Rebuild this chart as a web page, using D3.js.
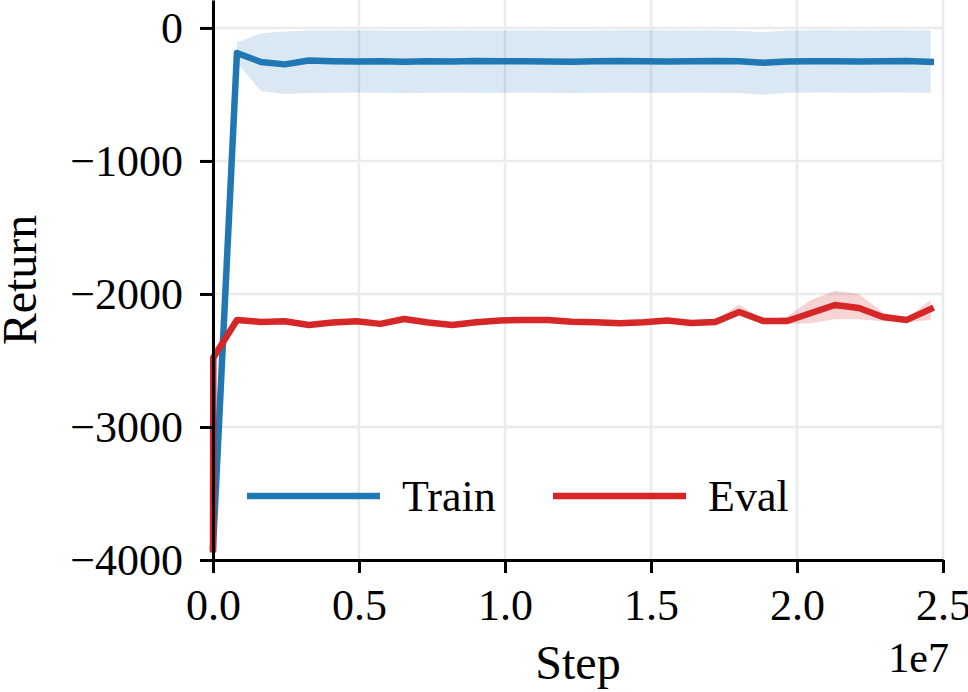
<!DOCTYPE html>
<html>
<head>
<meta charset="utf-8">
<script src="https://cdn.jsdelivr.net/npm/d3@7"></script>
<style>
  body { margin: 0; background: #fff; }
  svg { display: block; font-family: "Liberation Serif", "DejaVu Serif", serif; }
  .axis text { font-size: 44px; fill: #000; }
  .axis path, .axis line { stroke: #000; stroke-width: 3px; }
  .grid line { stroke: #ebebeb; stroke-width: 2.5px; }
</style>
</head>
<body>
<div class="chart"></div>
<script>
// steps in units of 1e7
const trainSteps = [0, 0.082, 0.164, 0.246, 0.328, 0.410, 0.492, 0.573, 0.655, 0.737,
    0.819, 0.901, 0.983, 1.065, 1.147, 1.229, 1.311, 1.393, 1.475, 1.556,
    1.638, 1.720, 1.802, 1.884, 1.966, 2.048, 2.130, 2.212, 2.294, 2.376, 2.458];
const trainMean = [-3910, -188, -256, -274, -245, -250, -252, -250, -255, -250,
    -252, -248, -250, -250, -252, -255, -250, -248, -250, -252,
    -250, -248, -250, -262, -252, -250, -250, -252, -250, -248, -255];
const trainUpper = [-3910, -110, -40, -26, -20, -20, -18, -20, -22, -20,
    -18, -20, -20, -18, -20, -22, -20, -18, -18, -20,
    -18, -20, -22, -32, -20, -18, -18, -20, -18, -18, -20];
const trainLower = [-3910, -260, -474, -496, -490, -488, -486, -488, -490, -488,
    -486, -488, -488, -486, -488, -490, -488, -486, -488, -488,
    -486, -488, -490, -502, -488, -486, -486, -488, -486, -486, -488];

const evalSteps = [0, 0.001, 0.082, 0.164, 0.246, 0.328, 0.410, 0.492, 0.573, 0.655, 0.737,
    0.819, 0.901, 0.983, 1.065, 1.147, 1.229, 1.311, 1.393, 1.475, 1.556,
    1.638, 1.720, 1.802, 1.884, 1.966, 2.048, 2.130, 2.212, 2.294, 2.376, 2.458];
const evalMean = [-3920, -2480, -2195, -2210, -2205, -2233, -2215, -2205, -2225, -2188, -2215,
    -2233, -2213, -2200, -2195, -2195, -2208, -2213, -2220, -2213, -2200,
    -2218, -2210, -2135, -2203, -2203, -2143, -2083, -2105, -2173, -2195, -2113];
const evalUpper = [-3920, -2480, -2187, -2202, -2197, -2225, -2207, -2197, -2217, -2165, -2207,
    -2225, -2205, -2192, -2187, -2187, -2200, -2205, -2212, -2205, -2192,
    -2210, -2200, -2080, -2195, -2170, -2045, -1975, -2000, -2140, -2180, -2045];
const evalLower = [-3920, -2480, -2203, -2218, -2213, -2241, -2223, -2213, -2233, -2196, -2223,
    -2241, -2221, -2208, -2203, -2203, -2216, -2221, -2228, -2221, -2208,
    -2226, -2218, -2160, -2211, -2225, -2220, -2190, -2190, -2205, -2210, -2195];

const xTicks = [0, 0.5, 1.0, 1.5, 2.0, 2.5];
const yTicks = [-4000, -3000, -2000, -1000, 0];

const series = [
    { name: 'Train', color: '#1f77b4', steps: trainSteps, mean: trainMean, lo: trainLower, hi: trainUpper, alpha: 0.17 },
    { name: 'Eval', color: '#d62728', steps: evalSteps, mean: evalMean, lo: evalLower, hi: evalUpper, alpha: 0.2 }
];

// set svg
const svg_width = 968, svg_height = 692;
const margin = { top: 0, right: 25, bottom: 132, left: 213 };
const width = svg_width - margin.left - margin.right;
const height = svg_height - margin.top - margin.bottom;

const svg = d3.select('.chart').append('svg')
    .attr('width', svg_width).attr('height', svg_height);
const g = svg.append('g').attr('transform', `translate(${margin.left},${margin.top})`);

const x = d3.scaleLinear().domain([0, 2.5]).range([0, width]);
const y = d3.scaleLinear().domain([-4000, 210]).range([height, 0]);

// grid
const grid = g.append('g').attr('class', 'grid');
grid.selectAll('.gx').data(xTicks).join('line')
    .attr('x1', d => x(d)).attr('x2', d => x(d))
    .attr('y1', 0).attr('y2', height);
grid.selectAll('.gy').data(yTicks).join('line')
    .attr('x1', 0).attr('x2', width)
    .attr('y1', d => y(d)).attr('y2', d => y(d));

// bands + lines
const area = d3.area().x(d => x(d.s)).y0(d => y(d.lo)).y1(d => y(d.hi));
const line = d3.line().x(d => x(d.s)).y(d => y(d.m));

series.forEach(s => {
    const pts = s.steps.map((st, i) => ({ s: st, m: s.mean[i], lo: s.lo[i], hi: s.hi[i] }));
    g.append('path').datum(pts)
        .attr('d', area)
        .attr('fill', s.color).attr('fill-opacity', s.alpha);
    s.pts = pts;
});
series.forEach(s => {
    g.append('path').datum(s.pts)
        .attr('d', line)
        .attr('fill', 'none')
        .attr('stroke', s.color).attr('stroke-width', 6.5)
        .attr('stroke-linejoin', 'round').attr('stroke-linecap', 'square');
});

// axes
const fmtY = d => d < 0 ? '\u2212' + Math.abs(d) : String(d);
const xAxis = d3.axisBottom(x).tickValues(xTicks).tickFormat(d3.format('.1f'))
    .tickSizeInner(13).tickSizeOuter(0).tickPadding(16);
const yAxis = d3.axisLeft(y).tickValues(yTicks).tickFormat(fmtY)
    .tickSizeInner(13).tickSizeOuter(0).tickPadding(17);

g.append('g').attr('class', 'x axis')
    .attr('transform', `translate(0,${height})`).call(xAxis);
g.append('g').attr('class', 'y axis').call(yAxis);
g.selectAll('.axis').attr('font-family', null).attr('font-size', null);

// labels
svg.append('text')
    .attr('transform', `translate(36,280) rotate(-90)`)
    .attr('text-anchor', 'middle').style('font-size', '48px')
    .text('Return');
svg.append('text')
    .attr('x', margin.left + width / 2).attr('y', 679)
    .attr('text-anchor', 'middle').style('font-size', '48px')
    .text('Step');
svg.append('text')
    .attr('x', 949).attr('y', 672)
    .attr('text-anchor', 'end').style('font-size', '42px')
    .text('1e7');

// legend
const legend = svg.append('g').attr('class', 'legend');
const legendX = [247, 553];
series.forEach((s, i) => {
    const lg = legend.append('g').attr('transform', `translate(${legendX[i]},496)`);
    lg.append('line').attr('x1', 0).attr('x2', 133)
        .attr('stroke', s.color).attr('stroke-width', 6.5);
    lg.append('text').attr('x', 155).attr('y', 15)
        .style('font-size', '44px').text(s.name);
});
</script>
</body>
</html>
